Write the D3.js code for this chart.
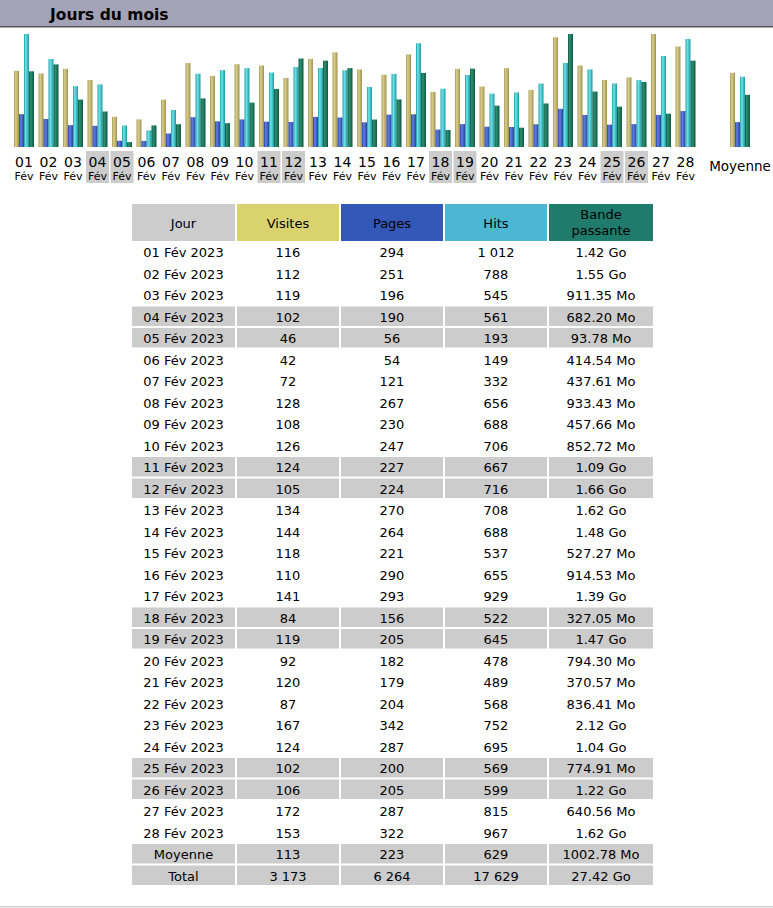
<!DOCTYPE html>
<html>
<head>
<meta charset="utf-8">
<script src="https://cdn.jsdelivr.net/npm/d3@7"></script>
<style>
  body { margin: 0; background: #fff; }
  text { font-family: "DejaVu Sans", Verdana, sans-serif; fill: #000; }
</style>
</head>
<body>
<div id="chart"></div>
<script>
// Data
var days = ["01","02","03","04","05","06","07","08","09","10","11","12","13","14",
            "15","16","17","18","19","20","21","22","23","24","25","26","27","28"];
var weekend = ["04","05","11","12","18","19","25","26"];
var visits = [116,112,119,102,46,42,72,128,108,126,124,105,134,144,118,110,141,84,119,92,120,87,167,124,102,106,172,153];
var pages = [294,251,196,190,56,54,121,267,230,247,227,224,270,264,221,290,293,156,205,182,179,204,342,287,200,205,287,322];
var hits = [1012,788,545,561,193,149,332,656,688,706,667,716,708,688,537,655,929,522,645,478,489,568,752,695,569,599,815,967];
// bandwidth in Mo
var bandwidth = [1454.08,1587.2,911.35,682.20,93.78,414.54,437.61,933.43,457.66,852.72,1116.16,1699.84,1658.88,1515.52,
                 527.27,914.53,1423.36,327.05,1505.28,794.30,370.57,836.41,2170.88,1064.96,774.91,1249.28,640.56,1658.88];
var average = [113, 223, 629, 1002.78];
var total = ["3 173", "6 264", "17 629", "27.42 Go"];
var columns = ["Jour", "Visites", "Pages", "Hits", "Bande passante"];

var svgWidth = 773, svgHeight = 908;
var svg = d3.select("#chart").append("svg")
  .attr("width", svgWidth)
  .attr("height", svgHeight);

// Title bar
svg.append("rect").attr("x", 0).attr("y", 0).attr("width", svgWidth).attr("height", 26).attr("fill", "#a3a3b7");
svg.append("rect").attr("x", 0).attr("y", 26).attr("width", svgWidth).attr("height", 1.5).attr("fill", "#55555f");
svg.append("text").attr("x", 50).attr("y", 20)
  .attr("font-size", "15.5px").attr("font-weight", "bold")
  .text("Jours du mois");

// Gradients for the bars
var series = [
  {key: "v", stops: ["#a89a55", "#d9ce8e", "#a0924e"]},
  {key: "p", stops: ["#2a44a6", "#5f7ee2", "#2b42a0"]},
  {key: "h", stops: ["#1c9ea6", "#72e2e8", "#1a9aa2"]},
  {key: "k", stops: ["#0e5c43", "#2f8f70", "#0c5840"]}
];
var defs = svg.append("defs");
series.forEach(function(s) {
  var g = defs.append("linearGradient").attr("id", "g" + s.key)
    .attr("x1", "0%").attr("x2", "100%").attr("y1", "0%").attr("y2", "0%");
  g.append("stop").attr("offset", "0%").attr("stop-color", s.stops[0]);
  g.append("stop").attr("offset", "35%").attr("stop-color", s.stops[1]);
  g.append("stop").attr("offset", "100%").attr("stop-color", s.stops[2]);
});

// Scales
var baseY = 147, topY = 34;
var x0 = d3.scaleBand().domain(days).range([11.75, 11.75 + 28 * 24.5]);
var x1 = d3.scaleBand().domain(["v", "p", "h", "k"]).range([0, 20]);
var yV = d3.scaleLinear().domain([0, d3.max(visits)]).range([baseY, topY]);
var yH = d3.scaleLinear().domain([0, d3.max(hits)]).range([baseY, topY]);
var yK = d3.scaleLinear().domain([0, d3.max(bandwidth)]).range([baseY, topY]);

var rows = days.map(function(d, i) {
  return {day: d, v: visits[i], p: pages[i], h: hits[i], k: bandwidth[i]};
});
var avgRow = {day: "Moyenne", v: average[0], p: average[1], h: average[2], k: average[3]};

function drawGroup(sel, d, left) {
  var vals = [
    {key: "v", y: yV(d.v)},
    {key: "p", y: yH(d.p)},
    {key: "h", y: yH(d.h)},
    {key: "k", y: yK(d.k)}
  ];
  sel.selectAll("rect.bar").data(vals).enter().append("rect")
    .attr("class", "bar")
    .attr("x", function(b) { return left + x1(b.key); })
    .attr("y", function(b) { return b.y; })
    .attr("width", x1.bandwidth())
    .attr("height", function(b) { return baseY - b.y; })
    .attr("fill", function(b) { return "url(#g" + b.key + ")"; });
}

var pad = (x0.step() - 20) / 2;
var groups = svg.selectAll("g.day").data(rows).enter().append("g").attr("class", "day");
groups.each(function(d) { drawGroup(d3.select(this), d, x0(d.day) + pad); });

// Day labels
groups.filter(function(d) { return weekend.indexOf(d.day) >= 0; })
  .append("rect")
  .attr("x", function(d) { return x0(d.day) + x0.step() / 2 - 11.5; })
  .attr("y", 151).attr("width", 23).attr("height", 32)
  .attr("fill", "#cccccc");
groups.append("text")
  .attr("x", function(d) { return x0(d.day) + x0.step() / 2; })
  .attr("y", 167).attr("text-anchor", "middle").attr("font-size", "14px")
  .text(function(d) { return d.day; });
groups.append("text")
  .attr("x", function(d) { return x0(d.day) + x0.step() / 2; })
  .attr("y", 180).attr("text-anchor", "middle").attr("font-size", "11px")
  .text("Fév");

// Average group
var avgG = svg.append("g");
drawGroup(avgG, avgRow, 730);
avgG.append("text").attr("x", 740).attr("y", 171).attr("text-anchor", "middle")
  .attr("font-size", "13.5px").text("Moyenne");

// Table
var colX = [132, 237, 341, 445, 549];
var colW = [103, 102, 102, 102, 104];
var headFill = ["#cccccc", "#dad36d", "#3358b8", "#4bb7d3", "#1f7c6c"];
var headY = 204, headH = 37, rowTop = 242, rowStep = 21.5, rowH = 19.5;

function fmtBw(mo) {
  return mo >= 1024 ? (mo / 1024).toFixed(2) + " Go" : mo.toFixed(2) + " Mo";
}
function fmtInt(n) {
  return d3.format(",")(n).replace(/,/g, " ");
}

var head = svg.append("g");
columns.forEach(function(c, j) {
  head.append("rect").attr("x", colX[j]).attr("y", headY).attr("width", colW[j]).attr("height", headH)
    .attr("fill", headFill[j]);
  var words = c === "Bande passante" ? ["Bande", "passante"] : [c];
  words.forEach(function(w, k) {
    head.append("text")
      .attr("x", colX[j] + colW[j] / 2)
      .attr("y", words.length === 1 ? headY + 23.5 : headY + 15 + k * 16)
      .attr("text-anchor", "middle").attr("font-size", "13px")
      .attr("fill", "#111")
      .text(w);
  });
});

var tableRows = rows.map(function(d) {
  return {
    grey: weekend.indexOf(d.day) >= 0,
    cells: [d.day + " Fév 2023", fmtInt(d.v), fmtInt(d.p), fmtInt(d.h), fmtBw(d.k)]
  };
});
tableRows.push({grey: true, cells: ["Moyenne", fmtInt(average[0]), fmtInt(average[1]), fmtInt(average[2]), fmtBw(average[3])]});
tableRows.push({grey: true, cells: ["Total"].concat(total)});

var tr = svg.selectAll("g.row").data(tableRows).enter().append("g").attr("class", "row")
  .attr("transform", function(d, i) { return "translate(0," + (rowTop + i * rowStep) + ")"; });
tr.filter(function(d) { return d.grey; }).selectAll("rect").data(colX).enter().append("rect")
  .attr("x", function(x) { return x; })
  .attr("y", 0)
  .attr("width", function(x, j) { return colW[j]; })
  .attr("height", rowH)
  .attr("fill", "#cccccc");
tr.selectAll("text").data(function(d) { return d.cells; }).enter().append("text")
  .attr("x", function(t, j) { return colX[j] + colW[j] / 2; })
  .attr("y", 15)
  .attr("text-anchor", "middle").attr("font-size", "13px")
  .text(function(t) { return t; });

// Bottom rule
svg.append("rect").attr("x", 0).attr("y", 906).attr("width", svgWidth).attr("height", 1.5).attr("fill", "#d0d0d0");
</script>
</body>
</html>
